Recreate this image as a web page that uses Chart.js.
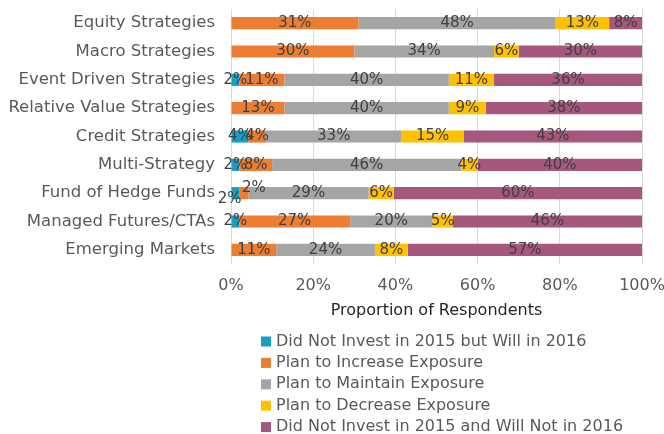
<!DOCTYPE html>
<html>
<head>
<meta charset="utf-8">
<script src="https://cdn.jsdelivr.net/npm/chart.js@4.4.1/dist/chart.umd.min.js"></script>
<style>
  html, body { margin: 0; padding: 0; background: #fff; }
  #wrap { width: 664px; height: 434px; position: relative; }
</style>
</head>
<body>
<div id="wrap"><canvas id="chart" width="664" height="434"></canvas></div>
<script>
// categories, top to bottom
const strategies = [
    'Equity Strategies', 'Macro Strategies', 'Event Driven Strategies',
    'Relative Value Strategies', 'Credit Strategies', 'Multi-Strategy',
    'Fund of Hedge Funds', 'Managed Futures/CTAs', 'Emerging Markets'
];

const seriesNames = [
    'Did Not Invest in 2015 but Will in 2016',
    'Plan to Increase Exposure',
    'Plan to Maintain Exposure',
    'Plan to Decrease Exposure',
    'Did Not Invest in 2015 and Will Not in 2016'
];

// values in % of respondents (labels show them rounded)
const willInvest   = [0, 0, 2, 0, 4.2, 2, 2.1, 2, 0];
const increase     = [31, 30, 11, 13, 4.3, 8, 2.1, 27, 11];
const maintain     = [48, 34, 40, 40, 33, 46, 29.3, 20, 24];
const decrease     = [13, 6, 11, 9, 15.1, 4, 6.1, 5, 8];
const willNot      = [8, 30, 36, 38, 43.4, 40, 60.4, 46, 57];

const xTicks = [0, 20, 40, 60, 80, 100];

const colors = ['#14a0c4', '#ed7d31', '#a5a5a5', '#ffc000', '#a5577e'];
const FONT = '"DejaVu Sans", sans-serif';

// small label nudges where excel moved overlapping labels (dataset, row) -> [dx, dy]
const labelNudge = { '0-6': [-6, 6], '1-6': [10, -5] };

const valueLabels = {
    id: 'valueLabels',
    afterDatasetsDraw(chart) {
        const ctx = chart.ctx;
        ctx.save();
        ctx.font = '15px ' + FONT;
        ctx.fillStyle = '#404040';
        ctx.textAlign = 'center';
        ctx.textBaseline = 'middle';
        chart.data.datasets.forEach((ds, di) => {
            const meta = chart.getDatasetMeta(di);
            meta.data.forEach((bar, i) => {
                const v = ds.data[i];
                if (!v) return;
                const n = labelNudge[di + '-' + i] || [0, 0];
                ctx.fillText(Math.round(v) + '%', (bar.x + bar.base) / 2 + n[0], bar.y + n[1]);
            });
        });
        ctx.restore();
    }
};

const listLegend = {
    id: 'listLegend',
    afterDraw(chart) {
        const ctx = chart.ctx;
        const x = chart.chartArea.left + 30;
        let y = chart.height - 92.5;
        ctx.save();
        ctx.font = '16px ' + FONT;
        ctx.textBaseline = 'middle';
        chart.data.datasets.forEach(ds => {
            ctx.fillStyle = ds.backgroundColor;
            ctx.fillRect(x, y - 5, 10, 10);
            ctx.fillStyle = '#595959';
            ctx.fillText(ds.label, x + 15, y);
            y += 21.4;
        });
        ctx.restore();
    }
};

const series = [willInvest, increase, maintain, decrease, willNot];

new Chart(document.getElementById('chart'), {
    type: 'bar',
    data: {
        labels: strategies,
        datasets: series.map((d, i) => ({
            label: seriesNames[i],
            data: d,
            backgroundColor: colors[i],
            borderWidth: 0,
            categoryPercentage: 1,
            barPercentage: 0.43
        }))
    },
    options: {
        indexAxis: 'y',
        responsive: false,
        animation: false,
        layout: { padding: { left: 0, right: 22, top: 9, bottom: 114 } },
        scales: {
            x: {
                stacked: true,
                min: 0,
                max: 100,
                afterBuildTicks: s => { s.ticks = xTicks.map(v => ({ value: v })); },
                afterFit: s => { s.height = 56; s.paddingLeft = 0; s.paddingRight = 0; },
                ticks: { callback: v => v + '%', color: '#595959', font: { family: FONT, size: 16 }, padding: 12 },
                grid: { color: '#d9d9d9', drawTicks: false },
                border: { display: false },
                title: { display: true, text: 'Proportion of Respondents', color: '#262626', font: { family: FONT, size: 16 }, padding: { top: 0, bottom: 0 } }
            },
            y: {
                stacked: true,
                afterFit: s => { s.width = 231; s.paddingTop = 0; s.paddingBottom = 0; },
                ticks: { color: '#595959', font: { family: FONT, size: 16.5 }, padding: 16 },
                grid: { display: false, drawTicks: false },
                border: { display: false }
            }
        },
        plugins: {
            legend: { display: false },
            tooltip: { enabled: false }
        }
    },
    plugins: [valueLabels, listLegend]
});
</script>
</body>
</html>
